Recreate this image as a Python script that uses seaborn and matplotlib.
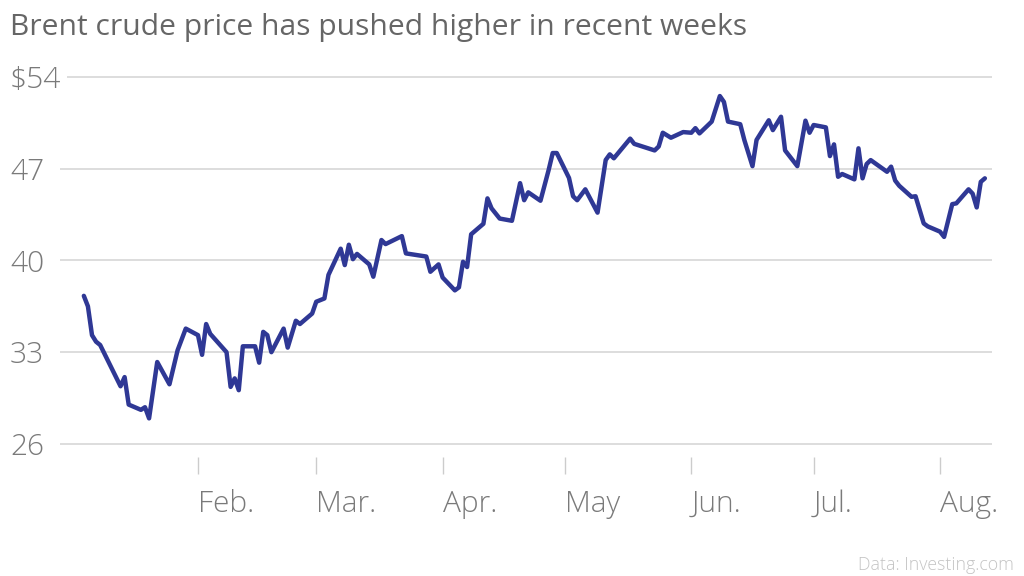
import matplotlib
matplotlib.use("Agg")
import matplotlib.pyplot as plt
import matplotlib.dates as mdates
import pandas as pd
import seaborn as sns

# ---- data ----
dates = [
    "2016-01-04", "2016-01-05", "2016-01-06", "2016-01-07", "2016-01-08",
    "2016-01-13", "2016-01-14", "2016-01-15", "2016-01-18", "2016-01-19",
    "2016-01-20", "2016-01-22", "2016-01-25", "2016-01-27", "2016-01-29",
    "2016-02-01", "2016-02-02", "2016-02-03", "2016-02-04", "2016-02-08",
    "2016-02-09", "2016-02-10", "2016-02-11", "2016-02-12", "2016-02-15",
    "2016-02-16", "2016-02-17", "2016-02-18", "2016-02-19", "2016-02-22",
    "2016-02-23", "2016-02-25", "2016-02-26", "2016-02-29", "2016-03-01",
    "2016-03-03", "2016-03-04", "2016-03-07", "2016-03-08", "2016-03-09",
    "2016-03-10", "2016-03-11", "2016-03-14", "2016-03-15", "2016-03-17",
    "2016-03-18", "2016-03-22", "2016-03-23", "2016-03-28", "2016-03-29",
    "2016-03-31", "2016-04-01", "2016-04-04", "2016-04-05", "2016-04-06",
    "2016-04-07", "2016-04-08", "2016-04-11", "2016-04-12", "2016-04-13",
    "2016-04-15", "2016-04-18", "2016-04-20", "2016-04-21", "2016-04-22",
    "2016-04-25", "2016-04-27", "2016-04-28", "2016-04-29", "2016-05-02",
    "2016-05-03", "2016-05-04", "2016-05-06", "2016-05-09", "2016-05-11",
    "2016-05-12", "2016-05-13", "2016-05-17", "2016-05-18", "2016-05-23",
    "2016-05-24", "2016-05-25", "2016-05-27", "2016-05-30", "2016-06-01",
    "2016-06-02", "2016-06-03", "2016-06-06", "2016-06-08", "2016-06-09",
    "2016-06-10", "2016-06-13", "2016-06-14", "2016-06-16", "2016-06-17",
    "2016-06-20", "2016-06-21", "2016-06-23", "2016-06-24", "2016-06-27",
    "2016-06-29", "2016-06-30", "2016-07-01", "2016-07-04", "2016-07-05",
    "2016-07-06", "2016-07-07", "2016-07-08", "2016-07-11", "2016-07-12",
    "2016-07-13", "2016-07-14", "2016-07-15", "2016-07-19", "2016-07-20",
    "2016-07-21", "2016-07-22", "2016-07-25", "2016-07-26", "2016-07-28",
    "2016-07-29", "2016-08-01", "2016-08-02", "2016-08-04", "2016-08-05",
    "2016-08-08", "2016-08-09", "2016-08-10", "2016-08-11", "2016-08-12",
]
prices = [
    37.3, 36.5, 34.3, 33.8, 33.55,
    30.4, 31.1, 29.0, 28.6, 28.8,
    27.95, 32.25, 30.55, 33.15, 34.8,
    34.3, 32.8, 35.15, 34.4, 33.0,
    30.35, 31.0, 30.1, 33.45, 33.45,
    32.2, 34.55, 34.3, 33.0, 34.8,
    33.35, 35.4, 35.15, 35.95, 36.85,
    37.1, 38.9, 40.9, 39.65, 41.2,
    40.1, 40.5, 39.7, 38.76, 41.56,
    41.25, 41.86, 40.54, 40.3, 39.14,
    39.7, 38.7, 37.72, 37.95, 39.9,
    39.5, 42.0, 42.8, 44.74, 43.98,
    43.2, 43.03, 45.9, 44.6, 45.2,
    44.56, 46.9, 48.2, 48.2, 46.3,
    44.9, 44.6, 45.43, 43.65, 47.67,
    48.1, 47.8, 49.3, 48.9, 48.4,
    48.7, 49.75, 49.37, 49.8, 49.75,
    50.1, 49.7, 50.6, 52.55, 52.1,
    50.6, 50.4, 49.2, 47.2, 49.2,
    50.7, 49.95, 50.97, 48.4, 47.2,
    50.67, 49.75, 50.34, 50.16, 47.97,
    48.86, 46.39, 46.6, 46.19, 48.56,
    46.27, 47.36, 47.66, 46.77, 47.16,
    46.1, 45.7, 44.86, 44.9, 42.83,
    42.6, 42.2, 41.8, 44.3, 44.36,
    45.43, 45.1, 44.05, 46.0, 46.27,
]
month_ticks = ["2016-02-01", "2016-03-01", "2016-04-01", "2016-05-01",
               "2016-06-01", "2016-07-01", "2016-08-01"]
month_labels = ["Feb.", "Mar.", "Apr.", "May", "Jun.", "Jul.", "Aug."]
y_ticks = [26, 33, 40, 47, 54]
y_labels = ["26", "33", "40", "47", "$54"]

title = "Brent crude price has pushed higher in recent weeks"
source = "Data: Investing.com"

# ---- style ----
sns.set_style("white")
plt.rcParams["font.family"] = ["Open Sans", "DejaVu Sans"]

df = pd.DataFrame({"date": pd.to_datetime(dates), "price": prices})

fig = plt.figure(figsize=(10.24, 5.76), dpi=100)
W, H = 1024, 576
ax = fig.add_axes([60 / W, (H - 457) / H, 932 / W, (457 - 70.5) / H])

sns.lineplot(data=df, x="date", y="price", ax=ax, color="#2f3895",
             linewidth=3.2, solid_joinstyle="round", solid_capstyle="round")

feb1 = mdates.date2num(pd.Timestamp("2016-02-01"))
ax.set_xlim(feb1 - 138 / 4.077, feb1 + 794 / 4.077)
ax.set_ylim(25, 54.5)

ax.set_xlabel("")
ax.set_ylabel("")
for s in ax.spines.values():
    s.set_visible(False)

# gridlines
ax.set_yticks(y_ticks)
ax.yaxis.grid(True, color="#dddddd", linewidth=1.4)
ax.xaxis.grid(False)
ax.set_axisbelow(True)

ax.set_yticklabels(y_labels, ha="left", fontsize=21.5, color="#7a7a7a",
                   fontweight="light")
for lab in ax.get_yticklabels():
    lab.set_bbox(dict(facecolor="white", edgecolor="none", pad=4))
ax.tick_params(axis="y", length=0, pad=50 / 1.389)

ax.set_xticks(pd.to_datetime(month_ticks))
ax.set_xticklabels(month_labels, ha="left", fontsize=21.5, color="#7a7a7a",
                   fontweight="light")
ax.tick_params(axis="x", direction="out", length=17 / 1.389, width=1,
               color="#cccccc", pad=11, bottom=True)

fig.text(10 / W, 1 - 28 / H, title, ha="left", va="center", fontsize=21.6,
         color="#666666")
fig.text(1014 / W, 1 - 565 / H, source, ha="right", va="center",
         fontsize=12.8, color="#c4c4c4", fontweight="light")

fig.savefig("out.png", dpi=100, facecolor="white")
